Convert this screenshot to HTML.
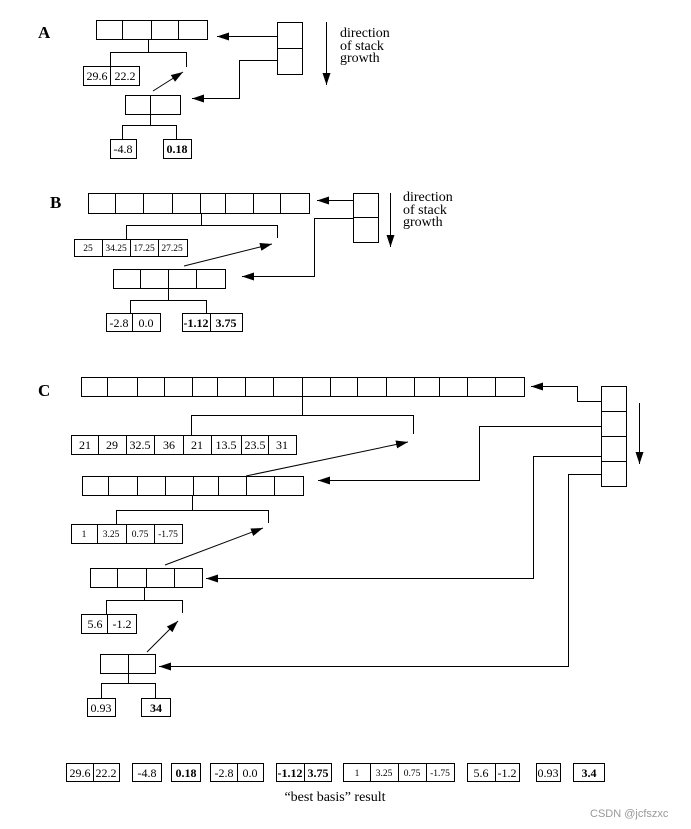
<!DOCTYPE html>
<html><head><meta charset="utf-8"><style>
html,body{margin:0;padding:0;background:#fff;}
svg{display:block;}
text{font-family:"Liberation Serif",serif;fill:#000;}
</style></head><body>
<svg width="691" height="829" viewBox="0 0 691 829" xmlns="http://www.w3.org/2000/svg">
<defs>
<marker id="ah" markerWidth="12" markerHeight="8" refX="12" refY="4" orient="auto" markerUnits="userSpaceOnUse">
<path d="M0,0 L12,4 L0,8 Z" fill="#000"/>
</marker>
</defs>
<g stroke="#000" stroke-width="1" fill="none">
<!-- A -->
<rect x="96.5" y="20.5" width="111" height="19"/>
<path d="M122.5,20.5V39.5M151.5,20.5V39.5M178.5,20.5V39.5"/>
<path d="M148.5,39.5V52.5M110.5,66V52.5H186.5V67"/>
<rect x="83.5" y="66.5" width="56" height="19"/><path d="M110.5,66.5V85.5"/>
<line x1="153" y1="91" x2="183" y2="72" marker-end="url(#ah)"/>
<rect x="125.5" y="95.5" width="55" height="19"/><path d="M150.5,95.5V114.5"/>
<path d="M150.5,114.5V125.5M122.5,139V125.5H176.5V139"/>
<rect x="110.5" y="139.5" width="26" height="19"/>
<rect x="163.5" y="139.5" width="28" height="19"/>
<rect x="277.5" y="22.5" width="25" height="52"/><path d="M277.5,48.5H302.5"/>
<line x1="277" y1="36.5" x2="217" y2="36.5" marker-end="url(#ah)"/>
<polyline points="277,60.5 239.5,60.5 239.5,98.5 192,98.5" marker-end="url(#ah)"/>
<line x1="326.5" y1="22" x2="326.5" y2="85" marker-end="url(#ah)"/>
<!-- B -->
<rect x="88.5" y="193.5" width="221" height="20"/>
<path d="M115.5,193.5V213.5M143.5,193.5V213.5M172.5,193.5V213.5M200.5,193.5V213.5M225.5,193.5V213.5M253.5,193.5V213.5M280.5,193.5V213.5"/>
<path d="M201.5,213.5V225.5M126.5,239V225.5H277.5V238"/>
<rect x="74.5" y="239.5" width="113" height="17"/>
<path d="M102.5,239.5V256.5M130.5,239.5V256.5M158.5,239.5V256.5"/>
<line x1="184" y1="266" x2="272" y2="244" marker-end="url(#ah)"/>
<rect x="113.5" y="269.5" width="112" height="19"/>
<path d="M140.5,269.5V288.5M168.5,269.5V288.5M196.5,269.5V288.5"/>
<path d="M168.5,288.5V300.5M130.5,313V300.5H206.5V313"/>
<rect x="106.5" y="313.5" width="54" height="18"/><path d="M132.5,313.5V331.5"/>
<rect x="182.5" y="313.5" width="60" height="18"/><path d="M210.5,313.5V331.5"/>
<rect x="353.5" y="193.5" width="25" height="49"/><path d="M353.5,217.5H378.5"/>
<line x1="353" y1="200.5" x2="317" y2="200.5" marker-end="url(#ah)"/>
<polyline points="353,218.5 314.5,218.5 314.5,276.5 242,276.5" marker-end="url(#ah)"/>
<line x1="390.5" y1="193" x2="390.5" y2="247" marker-end="url(#ah)"/>
<!-- C -->
<rect x="81.5" y="377.5" width="443" height="19"/>
<path d="M107.5,377.5V396.5M137.5,377.5V396.5M164.5,377.5V396.5M192.5,377.5V396.5M217.5,377.5V396.5M245.5,377.5V396.5M273.5,377.5V396.5M302.5,377.5V396.5M330.5,377.5V396.5M357.5,377.5V396.5M386.5,377.5V396.5M414.5,377.5V396.5M439.5,377.5V396.5M467.5,377.5V396.5M495.5,377.5V396.5"/>
<path d="M302.5,396.5V415.5M191.5,435V415.5H413.5V434"/>
<rect x="71.5" y="435.5" width="225" height="19"/>
<path d="M98.5,435.5V454.5M126.5,435.5V454.5M154.5,435.5V454.5M183.5,435.5V454.5M211.5,435.5V454.5M241.5,435.5V454.5M268.5,435.5V454.5"/>
<line x1="246" y1="476" x2="408" y2="442" marker-end="url(#ah)"/>
<rect x="82.5" y="476.5" width="221" height="19"/>
<path d="M108.5,476.5V495.5M137.5,476.5V495.5M165.5,476.5V495.5M193.5,476.5V495.5M218.5,476.5V495.5M246.5,476.5V495.5M274.5,476.5V495.5"/>
<path d="M192.5,495.5V510.5M116.5,524V510.5H268.5V523"/>
<rect x="71.5" y="524.5" width="111" height="19"/>
<path d="M97.5,524.5V543.5M126.5,524.5V543.5M154.5,524.5V543.5"/>
<line x1="165" y1="565" x2="263" y2="528" marker-end="url(#ah)"/>
<rect x="90.5" y="568.5" width="112" height="19"/>
<path d="M117.5,568.5V587.5M146.5,568.5V587.5M174.5,568.5V587.5"/>
<path d="M144.5,587.5V600.5M106.5,614V600.5H182.5V613"/>
<rect x="81.5" y="614.5" width="55" height="19"/><path d="M107.5,614.5V633.5"/>
<line x1="147" y1="652" x2="178" y2="621" marker-end="url(#ah)"/>
<rect x="100.5" y="654.5" width="55" height="19"/><path d="M128.5,654.5V673.5"/>
<path d="M128.5,673.5V683.5M101.5,698V683.5H155.5V698"/>
<rect x="87.5" y="698.5" width="28" height="18"/>
<rect x="141.5" y="698.5" width="29" height="18"/>
<rect x="601.5" y="386.5" width="25" height="100"/>
<path d="M601.5,411.5H626.5M601.5,436.5H626.5M601.5,461.5H626.5"/>
<polyline points="601,401.5 577.5,401.5 577.5,386.5 531,386.5" marker-end="url(#ah)"/>
<polyline points="601,426.5 479.5,426.5 479.5,480.5 318,480.5" marker-end="url(#ah)"/>
<polyline points="601,456.5 533.5,456.5 533.5,578.5 206,578.5" marker-end="url(#ah)"/>
<polyline points="601,474.5 568.5,474.5 568.5,666.5 159,666.5" marker-end="url(#ah)"/>
<line x1="639.5" y1="403" x2="639.5" y2="464" marker-end="url(#ah)"/>
<!-- bottom row -->
<rect x="66.5" y="763.5" width="53" height="18"/><path d="M93.5,763.5V781.5"/>
<rect x="132.5" y="763.5" width="29" height="18"/>
<rect x="171.5" y="763.5" width="29" height="18"/>
<rect x="210.5" y="763.5" width="53" height="18"/><path d="M237.5,763.5V781.5"/>
<rect x="276.5" y="763.5" width="55" height="18"/><path d="M304.5,763.5V781.5"/>
<rect x="343.5" y="763.5" width="111" height="18"/><path d="M370.5,763.5V781.5M398.5,763.5V781.5M426.5,763.5V781.5"/>
<rect x="467.5" y="763.5" width="52" height="18"/><path d="M495.5,763.5V781.5"/>
<rect x="536.5" y="763.5" width="24" height="18"/>
<rect x="573.5" y="763.5" width="31" height="18"/>
</g>
<g font-size="13">
<text x="38" y="38" font-size="17" font-weight="bold">A</text>
<text x="50" y="208" font-size="17" font-weight="bold">B</text>
<text x="38" y="396" font-size="17" font-weight="bold">C</text>
<g font-size="14">
<text x="340" y="37">direction</text><text x="340" y="50">of stack</text><text x="340" y="62">growth</text>
<text x="403" y="201">direction</text><text x="403" y="214">of stack</text><text x="403" y="226">growth</text>
</g>
<g text-anchor="middle" font-size="12">
<text x="97" y="80">29.6</text><text x="125" y="80">22.2</text>
<text x="123" y="153">-4.8</text><text x="177" y="153" font-weight="bold">0.18</text>
<g font-size="9.5"><text x="88" y="251">25</text><text x="116" y="251">34.25</text><text x="144" y="251">17.25</text><text x="172" y="251">27.25</text></g>
<text x="119" y="327">-2.8</text><text x="146" y="327">0.0</text>
<text x="196" y="327" font-weight="bold">-1.12</text><text x="226" y="327" font-weight="bold">3.75</text>
<text x="85" y="449">21</text><text x="112" y="449">29</text><text x="140" y="449">32.5</text><text x="169" y="449">36</text><text x="197" y="449">21</text><text x="226" y="449">13.5</text><text x="255" y="449">23.5</text><text x="282" y="449">31</text>
<g font-size="9.5"><text x="84" y="537">1</text><text x="111" y="537">3.25</text><text x="140" y="537">0.75</text><text x="168" y="537">-1.75</text></g>
<text x="95" y="628">5.6</text><text x="122" y="628">-1.2</text>
<text x="101" y="712">0.93</text><text x="156" y="712" font-weight="bold">34</text>
<text x="80" y="777">29.6</text><text x="106" y="777">22.2</text>
<text x="147" y="777">-4.8</text><text x="186" y="777" font-weight="bold">0.18</text>
<text x="224" y="777">-2.8</text><text x="250" y="777">0.0</text>
<text x="290" y="777" font-weight="bold">-1.12</text><text x="318" y="777" font-weight="bold">3.75</text>
<g font-size="9.5"><text x="357" y="776">1</text><text x="384" y="776">3.25</text><text x="412" y="776">0.75</text><text x="440" y="776">-1.75</text></g>
<text x="481" y="777">5.6</text><text x="507" y="777">-1.2</text>
<text x="548" y="777">0.93</text><text x="589" y="777" font-weight="bold">3.4</text>
<text x="335" y="801" font-size="14">“best  basis”  result</text>
</g>
<text x="590" y="817" font-size="11" style="font-family:'Liberation Sans',sans-serif;fill:#999">CSDN @jcfszxc</text>
</g>
</svg>
</body></html>
